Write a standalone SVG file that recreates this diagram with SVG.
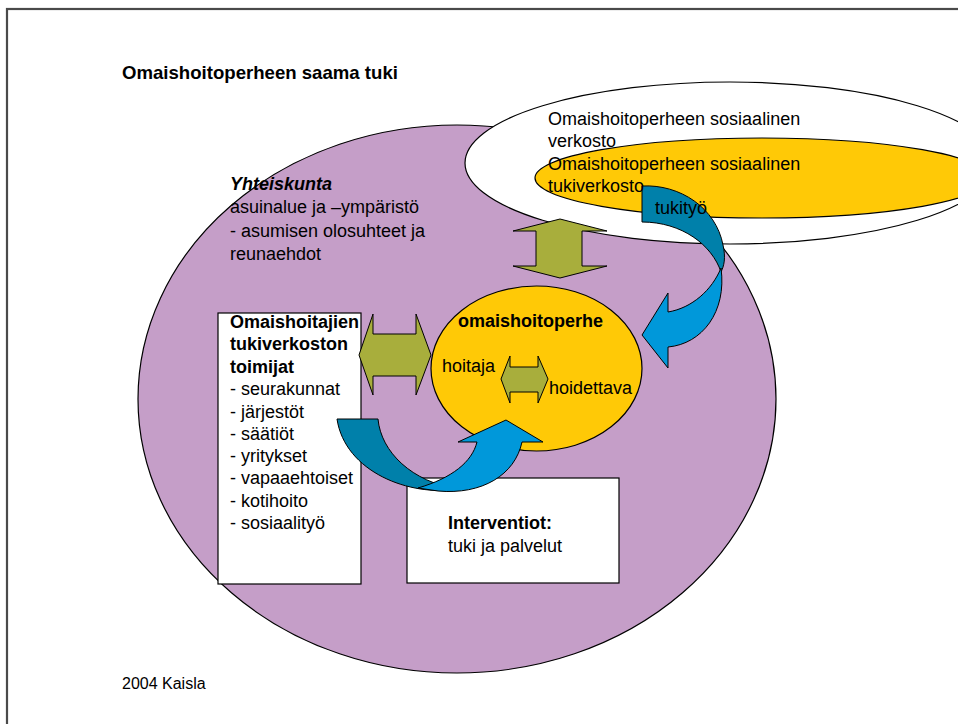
<svg xmlns="http://www.w3.org/2000/svg" width="958" height="724" viewBox="0 0 958 724">
<style>
text{font-family:"Liberation Sans",Arial,sans-serif;font-size:18px;fill:#000}
.b{font-weight:bold}
.bi{font-weight:bold;font-style:italic}
.t{font-weight:bold;font-size:18.6px}
.sm{font-size:16px}
.ln{stroke:#000;stroke-width:1.2}
.olive{fill:#A8AE3C;stroke:#000;stroke-width:1}
.dk{fill:#0080AA;stroke:#000;stroke-width:1}
.lt{fill:#0098DA;stroke:#000;stroke-width:1}
</style>
<rect x="0" y="0" width="958" height="724" fill="#fff"/>
<rect x="7" y="9" width="970" height="730" fill="none" stroke="#4a4a4a" stroke-width="2.2"/>
<g id="yhteiskunta">
<ellipse cx="457" cy="399" rx="319" ry="274" fill="#C59EC8" class="ln"/>
</g>
<g id="sosiaalinen-verkosto">
<ellipse cx="730" cy="163" rx="265" ry="81" fill="#fff" class="ln"/>
</g>
<g id="tukiverkosto">
<ellipse cx="762" cy="178" rx="227" ry="40" fill="#FFC906" class="ln"/>
</g>
<g id="toimijat">
<rect x="218" y="313" width="143" height="271" fill="#fff" class="ln"/>
</g>
<g id="interventiot">
<rect x="407" y="478" width="212" height="105" fill="#fff" class="ln"/>
</g>
<g id="omaishoitoperhe">
<ellipse cx="536.5" cy="368.5" rx="105.5" ry="82.5" fill="#FFC906" class="ln"/>
</g>
<g id="connectors">
<polygon class="olive" points="560,219 607,231 582,231 582,266 607,266 560,278 513,266 536,266 536,231 513,231"/>
<polygon class="olive" points="359,355 373,314 373,334 416,334 416,314 431,355 416,395 416,376 373,376 373,395"/>
<polygon class="olive" points="501,379 510,356 510,367 538,367 538,356 548,379 538,403 538,392 510,392 510,403"/>
<path class="dk" d="M642,186 C680,184 716,208 723,245 C726,258 724,266 721,272 C712,245 682,222 642,222 Z"/>
<path class="lt" d="M721,268 C712,290 692,308 668,312 L668,293 L642,335 L668,368 L668,347 C702,344 727,312 721,268 Z"/>
<path class="dk" d="M337,419 L378,419 C381,452 412,482 458,489 C410,497 345,472 337,419 Z"/>
<path class="lt" d="M418,488 C452,478 472,462 477,442 L458,442 L506,420 L543,442 L522,442 C515,475 482,495 438,491 Z"/>
</g>
<g id="labels">
<text class="t" x="122" y="79">Omaishoitoperheen saama tuki</text>
<text x="548" y="125">Omaishoitoperheen sosiaalinen</text>
<text x="548" y="147">verkosto</text>
<text x="548" y="170">Omaishoitoperheen sosiaalinen</text>
<text x="548" y="192">tukiverkosto</text>
<text x="655" y="214">tukityö</text>
<text class="bi" x="230" y="190">Yhteiskunta</text>
<text x="230" y="213">asuinalue ja –ympäristö</text>
<text x="230" y="237">- asumisen olosuhteet ja</text>
<text x="230" y="260">reunaehdot</text>
<text class="b" x="230" y="328">Omaishoitajien</text>
<text class="b" x="230" y="350">tukiverkoston</text>
<text class="b" x="230" y="373">toimijat</text>
<text x="230" y="395">- seurakunnat</text>
<text x="230" y="418">- järjestöt</text>
<text x="230" y="440">- säätiöt</text>
<text x="230" y="462">- yritykset</text>
<text x="230" y="484">- vapaaehtoiset</text>
<text x="230" y="507">- kotihoito</text>
<text x="230" y="529">- sosiaalityö</text>
<text class="b" x="458" y="327">omaishoitoperhe</text>
<text x="442" y="372">hoitaja</text>
<text x="549" y="394">hoidettava</text>
<text class="b" x="448" y="529">Interventiot:</text>
<text x="448" y="552">tuki ja palvelut</text>
<text class="sm" x="122" y="689">2004 Kaisla</text>
</g>
</svg>
